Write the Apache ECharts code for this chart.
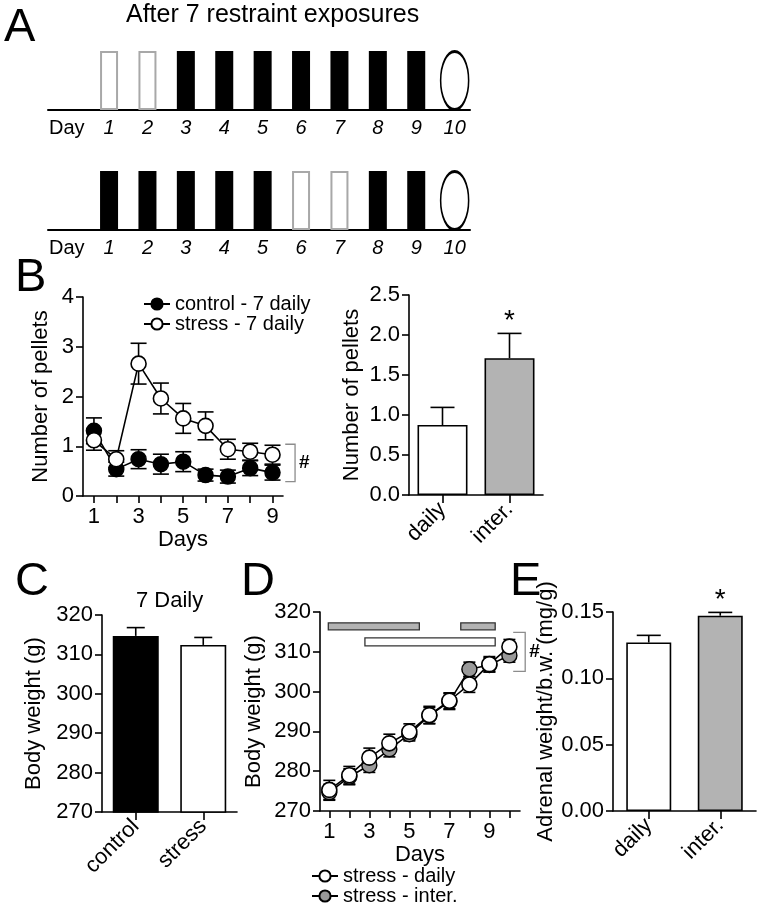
<!DOCTYPE html>
<html><head><meta charset="utf-8">
<script src="https://cdn.jsdelivr.net/npm/echarts@6/dist/echarts.min.js"></script>
<style>html,body{margin:0;padding:0;background:#fff}#c{width:761px;height:910px}</style>
</head><body><div id="c"></div>
<script>
// ---------- data ----------
const timelineDays = [1, 2, 3, 4, 5, 6, 7, 8, 9];
const schedule1 = ['rest', 'rest', 'stress', 'stress', 'stress', 'stress', 'stress', 'stress', 'stress'];
const schedule2 = ['stress', 'stress', 'stress', 'stress', 'stress', 'rest', 'rest', 'stress', 'stress'];
const testDay = 10;
const dayWordPos = -0.1;

const pelletDays = [1, 2, 3, 4, 5, 6, 7, 8, 9];
const pelletControl = [1.31, 0.54, 0.74, 0.64, 0.69, 0.42, 0.39, 0.56, 0.47];
const pelletControlSem = [0.26, 0.14, 0.19, 0.20, 0.20, 0.12, 0.13, 0.15, 0.15];
const pelletStress = [1.12, 0.74, 2.66, 1.96, 1.56, 1.41, 0.94, 0.89, 0.83];
const pelletStressSem = [0.20, 0.17, 0.41, 0.31, 0.30, 0.28, 0.20, 0.17, 0.19];
const pelletBracket = [[9.57, 10.01, 1.04, 0.29]];

const pelletGroups = ['daily', 'inter.'];
const pelletMeans = [0.875, 1.71];
const pelletSems = [0.22, 0.31];
const pelletStars = ['', '*'];

const bwGroups = ['control', 'stress'];
const bwMeans = [314.7, 312.4];
const bwSems = [2.1, 1.9];

const bwDays = [1, 2, 3, 4, 5, 6, 7, 8, 9, 10];
const bwDaily = [275.3, 279.0, 283.4, 287.0, 289.9, 294.1, 297.7, 301.8, 306.9, 311.3];
const bwDailySem = [2.4, 2.2, 2.4, 2.3, 2.0, 2.2, 2.0, 2.0, 1.9, 1.8];
const bwInter = [274.7, 278.6, 281.5, 285.5, 289.3, 294.0, 297.5, 305.6, 306.7, 309.1];
const bwInterSem = [2.0, 2.0, 1.8, 1.9, 1.7, 2.0, 2.0, 1.8, 1.8, 1.7];
const sigBarFrom = [0.95, 7.57, 2.78];
const sigBarTo = [5.5, 9.29, 9.29];
const sigBarLevel = [316.4, 316.4, 312.5];
const sigBarGroup = ['inter', 'inter', 'daily'];
const bwBracket = [[10.19, 10.79, 314.9, 305.1]];

const adrenalGroups = ['daily', 'inter.'];
const adrenalMeans = [0.127, 0.1472];
const adrenalSems = [0.0054, 0.0025];
const adrenalStars = ['', '*'];

// ---------- styling helpers ----------
const FONT = 'Liberation Sans, Arial, Helvetica, sans-serif';
const GRAY = '#b3b3b3';
const REST = '#a8a8a8';
const TICK_FS = 22;
const chart = echarts.init(document.getElementById('c'));

function errRender(both, capHalf, stars) {
  return function (params, api) {
    const x = api.value(0), m = api.value(1), s = api.value(2);
    const c = api.coord([x, m]), hi = api.coord([x, m + s]), lo = api.coord([x, m - s]);
    const st = { stroke: '#000', lineWidth: 1.6 };
    const ch = [
      { type: 'line', shape: { x1: c[0], y1: hi[1], x2: c[0], y2: both ? lo[1] : c[1] }, style: st },
      { type: 'line', shape: { x1: c[0] - capHalf, y1: hi[1], x2: c[0] + capHalf, y2: hi[1] }, style: st }
    ];
    if (both) ch.push({ type: 'line', shape: { x1: c[0] - capHalf, y1: lo[1], x2: c[0] + capHalf, y2: lo[1] }, style: st });
    if (stars && stars[params.dataIndex]) {
      ch.push({ type: 'text', style: { text: stars[params.dataIndex], x: c[0], y: hi[1] - 12, align: 'center', verticalAlign: 'middle', fontSize: 28, fontFamily: FONT, fill: '#000' } });
    }
    return { type: 'group', children: ch };
  };
}
function bracketRender(params, api) {
  const a = api.coord([api.value(0), api.value(2)]);
  const b = api.coord([api.value(1), api.value(3)]);
  return { type: 'group', children: [
    { type: 'polyline', shape: { points: [[a[0], a[1]], [b[0], a[1]], [b[0], b[1]], [a[0], b[1]]] }, style: { stroke: '#8c8c8c', lineWidth: 1.3, fill: null } },
    { type: 'text', style: { text: '#', x: b[0] + 4, y: (a[1] + b[1]) / 2, verticalAlign: 'middle', fontSize: 19, fontWeight: 'bold', fontFamily: FONT, fill: '#000' } }
  ] };
}
function sigBarRender(params, api) {
  const i = params.dataIndex;
  const p0 = api.coord([api.value(0), api.value(2)]);
  const p1 = api.coord([api.value(1), api.value(2)]);
  const h = sigBarGroup[i] === 'inter' ? 7 : 8;
  return { type: 'rect', shape: { x: p0[0], y: p0[1] - h / 2, width: p1[0] - p0[0], height: h },
    style: { fill: sigBarGroup[i] === 'inter' ? GRAY : '#fff', stroke: '#333', lineWidth: 1.3 } };
}

const axLine = { lineStyle: { color: '#000', width: 1.6 } };
const axTick = { lineStyle: { color: '#000', width: 1.6 }, length: 7 };
const lbl = (fs) => ({ color: '#000', fontSize: fs, fontFamily: FONT });
const nameStyle = { color: '#000', fontSize: 22, fontFamily: FONT };

function yAxis(gi, min, max, interval, name, gap, fmt) {
  return { type: 'value', gridIndex: gi, min, max, interval, name, nameLocation: 'middle', nameGap: gap,
    nameTextStyle: nameStyle, axisLine: { show: true, ...axLine }, axisTick: { show: true, ...axTick },
    axisLabel: { ...lbl(TICK_FS), margin: 9, formatter: fmt }, splitLine: { show: false } };
}
function catAxis(gi, data) {
  return { type: 'category', gridIndex: gi, data, axisLine: axLine,
    axisTick: { show: true, alignWithLabel: true, ...axTick, length: 8 },
    axisLabel: { ...lbl(22), rotate: 45, margin: 11 } };
}
function timelineX(gi) {
  return { type: 'value', gridIndex: gi, min: -0.59, max: 10.4,
    axisLine: { show: true, lineStyle: { color: '#000', width: 2 } }, axisTick: { show: false }, splitLine: { show: false },
    axisLabel: { customValues: [dayWordPos, ...timelineDays, testDay], margin: 8, color: '#000', fontFamily: FONT,
      formatter: (v) => v < 0.5 ? '{d|Day}' : '{n|' + Math.round(v) + '}',
      rich: { d: { fontSize: 20, fontFamily: FONT, color: '#000' }, n: { fontSize: 20, fontStyle: 'italic', fontFamily: FONT, color: '#000' } } } };
}
function timelineBars(gi, schedule) {
  return { type: 'bar', xAxisIndex: gi, yAxisIndex: gi, barWidth: 18, silent: true,
    data: timelineDays.map((d, i) => ({ value: [d, 1], itemStyle: schedule[i] === 'rest'
      ? { color: '#fff', borderColor: REST, borderWidth: 2 } : { color: '#000' } })) };
}
function timelineEllipse(gi) {
  return { type: 'scatter', xAxisIndex: gi, yAxisIndex: gi, symbol: 'circle', symbolSize: [28, 58], silent: true,
    data: [[testDay, 0.5]], itemStyle: { color: '#fff', borderColor: '#000', borderWidth: 2.2, opacity: 1 } };
}

const letter = (t, x, y) => ({ type: 'text', left: x, top: y, style: { text: t, fontSize: 47, fontFamily: FONT, fill: '#000' } });

const option = {
  animation: false,
  backgroundColor: '#fff',
  textStyle: { fontFamily: FONT },
  grid: [
    { left: 48, top: 51, width: 422, height: 59 },
    { left: 48, top: 171, width: 422, height: 59 },
    { left: 83, top: 297, width: 200, height: 199 },
    { left: 409, top: 295, width: 134, height: 200 },
    { left: 102, top: 615, width: 135, height: 197 },
    { left: 320, top: 612, width: 200, height: 199 },
    { left: 613, top: 612, width: 143, height: 199 }
  ],
  xAxis: [
    timelineX(0),
    timelineX(1),
    { type: 'value', gridIndex: 2, min: 0.51, max: 9.47, name: 'Days', nameLocation: 'middle', nameGap: 23, nameTextStyle: nameStyle,
      axisLine: axLine, axisTick: { show: true, ...axTick, customValues: pelletDays }, splitLine: { show: false },
      axisLabel: { ...lbl(TICK_FS), margin: 10, customValues: pelletDays.filter(d => d % 2 === 1) } },
    catAxis(3, pelletGroups),
    catAxis(4, bwGroups),
    { type: 'value', gridIndex: 5, min: 0.535, max: 10.53, name: 'Days', nameLocation: 'middle', nameGap: 25, nameTextStyle: nameStyle,
      axisLine: axLine, axisTick: { show: true, ...axTick, customValues: bwDays }, splitLine: { show: false },
      axisLabel: { ...lbl(TICK_FS), margin: 10, customValues: bwDays.filter(d => d % 2 === 1) } },
    catAxis(6, adrenalGroups)
  ],
  yAxis: [
    { type: 'value', gridIndex: 0, min: 0, max: 1, show: false },
    { type: 'value', gridIndex: 1, min: 0, max: 1, show: false },
    yAxis(2, 0, 4, 1, 'Number of pellets', 31),
    yAxis(3, 0, 2.5, 0.5, 'Number of pellets', 46, (v) => v.toFixed(1)),
    yAxis(4, 270, 320, 10, 'Body weight (g)', 57),
    yAxis(5, 270, 320, 10, 'Body weight (g)', 55),
    yAxis(6, 0, 0.15, 0.05, 'Adrenal weight/b.w. (mg/g)', 51, (v) => v.toFixed(2))
  ],
  legend: [
    { orient: 'vertical', left: 143, top: 294, padding: 0, itemWidth: 26, itemHeight: 14, itemGap: 0,
      data: ['control - 7 daily', 'stress - 7 daily'], textStyle: { fontSize: 20, color: '#000', fontFamily: FONT } },
    { orient: 'vertical', left: 311, top: 866, padding: 0, height: 44, itemWidth: 26, itemHeight: 14, itemGap: 0,
      data: ['stress - daily', 'stress - inter.'], textStyle: { fontSize: 20, color: '#000', fontFamily: FONT } }
  ],
  graphic: [
    letter('A', 4, 5),
    { type: 'text', left: 126, top: 3, style: { text: 'After 7 restraint exposures', fontSize: 25, fontFamily: FONT, fill: '#000' } },
    letter('B', 15, 255),
    letter('C', 15, 559),
    letter('D', 241, 559),
    letter('E', 510, 559),
    { type: 'text', left: 136, top: 590, style: { text: '7 Daily', fontSize: 22, fontFamily: FONT, fill: '#000' } }
  ],
  series: [
    timelineBars(0, schedule1), timelineEllipse(0),
    timelineBars(1, schedule2), timelineEllipse(1),
    // B left
    { type: 'custom', xAxisIndex: 2, yAxisIndex: 2, z: 1, renderItem: errRender(true, 8), silent: true,
      data: pelletDays.map((d, i) => [d, pelletControl[i], pelletControlSem[i]]) },
    { type: 'custom', xAxisIndex: 2, yAxisIndex: 2, z: 1, renderItem: errRender(true, 8), silent: true,
      data: pelletDays.map((d, i) => [d, pelletStress[i], pelletStressSem[i]]) },
    { name: 'control - 7 daily', type: 'line', xAxisIndex: 2, yAxisIndex: 2, z: 3, symbol: 'circle', symbolSize: 15,
      lineStyle: { color: '#000', width: 1.6 }, itemStyle: { color: '#000', borderColor: '#000', borderWidth: 1.5 },
      data: pelletDays.map((d, i) => [d, pelletControl[i]]) },
    { name: 'stress - 7 daily', type: 'line', xAxisIndex: 2, yAxisIndex: 2, z: 4, symbol: 'circle', symbolSize: 15,
      lineStyle: { color: '#000', width: 1.6 }, itemStyle: { color: '#fff', borderColor: '#000', borderWidth: 1.6 },
      data: pelletDays.map((d, i) => [d, pelletStress[i]]) },
    { type: 'custom', xAxisIndex: 2, yAxisIndex: 2, renderItem: bracketRender, data: pelletBracket, silent: true },
    // B right
    { type: 'bar', xAxisIndex: 3, yAxisIndex: 3, barWidth: 50,
      data: pelletMeans.map((v, i) => ({ value: v, itemStyle: { color: i === 0 ? '#fff' : GRAY, borderColor: '#000', borderWidth: 1.6 } })) },
    { type: 'custom', xAxisIndex: 3, yAxisIndex: 3, z: 1, renderItem: errRender(false, 12, pelletStars), silent: true,
      data: pelletMeans.map((v, i) => [i, v, pelletSems[i]]) },
    // C
    { type: 'bar', xAxisIndex: 4, yAxisIndex: 4, barWidth: 46,
      data: bwMeans.map((v, i) => ({ value: v, itemStyle: { color: i === 0 ? '#000' : '#fff', borderColor: '#000', borderWidth: 1.6 } })) },
    { type: 'custom', xAxisIndex: 4, yAxisIndex: 4, z: 1, renderItem: errRender(false, 9), silent: true,
      data: bwMeans.map((v, i) => [i, v, bwSems[i]]) },
    // D
    { type: 'custom', xAxisIndex: 5, yAxisIndex: 5, renderItem: sigBarRender, silent: true,
      data: sigBarFrom.map((f, i) => [f, sigBarTo[i], sigBarLevel[i]]) },
    { type: 'custom', xAxisIndex: 5, yAxisIndex: 5, z: 1, renderItem: errRender(true, 6), silent: true,
      data: bwDays.map((d, i) => [d, bwInter[i], bwInterSem[i]]) },
    { type: 'custom', xAxisIndex: 5, yAxisIndex: 5, z: 1, renderItem: errRender(true, 6), silent: true,
      data: bwDays.map((d, i) => [d, bwDaily[i], bwDailySem[i]]) },
    { name: 'stress - inter.', type: 'line', xAxisIndex: 5, yAxisIndex: 5, z: 3, symbol: 'circle', symbolSize: 15,
      lineStyle: { color: '#000', width: 1.6 }, itemStyle: { color: '#999999', borderColor: '#000', borderWidth: 1.4 },
      data: bwDays.map((d, i) => [d, bwInter[i]]) },
    { name: 'stress - daily', type: 'line', xAxisIndex: 5, yAxisIndex: 5, z: 4, symbol: 'circle', symbolSize: 15,
      lineStyle: { color: '#000', width: 1.6 }, itemStyle: { color: '#fff', borderColor: '#000', borderWidth: 1.6 },
      data: bwDays.map((d, i) => [d, bwDaily[i]]) },
    { type: 'custom', xAxisIndex: 5, yAxisIndex: 5, renderItem: bracketRender, data: bwBracket, silent: true },
    // E
    { type: 'bar', xAxisIndex: 6, yAxisIndex: 6, barWidth: 45,
      data: adrenalMeans.map((v, i) => ({ value: v, itemStyle: { color: i === 0 ? '#fff' : GRAY, borderColor: '#000', borderWidth: 1.6 } })) },
    { type: 'custom', xAxisIndex: 6, yAxisIndex: 6, z: 1, renderItem: errRender(false, 12, adrenalStars), silent: true,
      data: adrenalMeans.map((v, i) => [i, v, adrenalSems[i]]) }
  ]
};
chart.setOption(option);
</script>
</body></html>
